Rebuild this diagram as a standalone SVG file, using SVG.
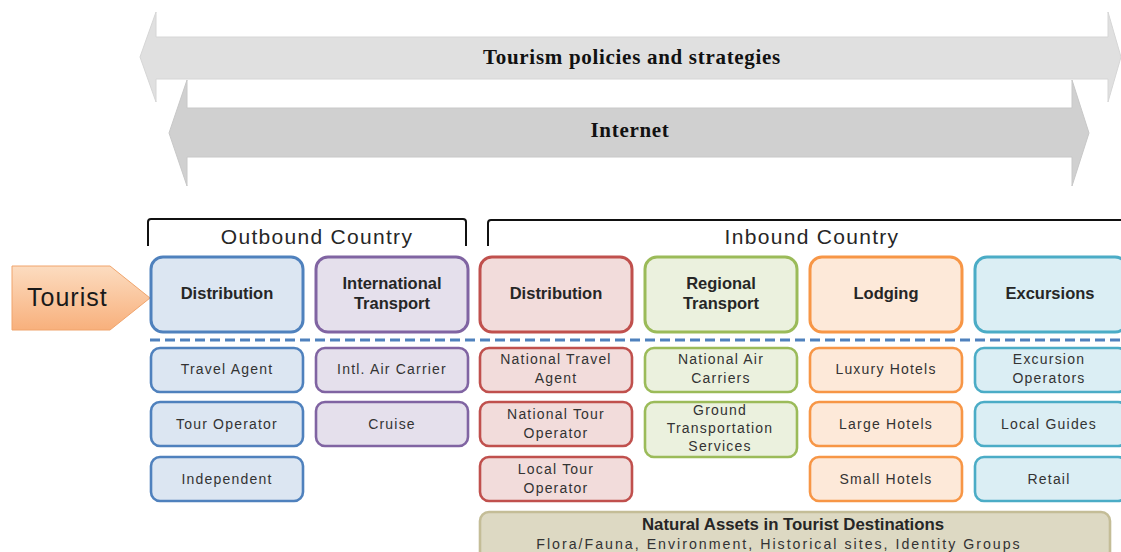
<svg xmlns="http://www.w3.org/2000/svg" width="1121" height="552" viewBox="0 0 1121 552">
<defs>
<linearGradient id="gTourist" x1="0" y1="0" x2="0" y2="1">
<stop offset="0" stop-color="#fcdcc0"/>
<stop offset="1" stop-color="#f8b07c"/>
</linearGradient>
<style>
.banner{font-family:"Liberation Serif",serif;font-weight:bold;font-size:21px;letter-spacing:0.7px;fill:#111;text-anchor:middle}
.country{font-family:"Liberation Sans",sans-serif;font-size:21px;letter-spacing:1.3px;fill:#262626;text-anchor:middle}
.head{font-family:"Liberation Sans",sans-serif;font-weight:bold;font-size:16.5px;fill:#262626;text-anchor:middle}
.sub{font-family:"Liberation Sans",sans-serif;font-size:14px;letter-spacing:1.2px;fill:#333;text-anchor:middle}
.bracket{fill:none;stroke:#111;stroke-width:2}
.h{stroke-width:3}
.s{stroke-width:2.6}
.blue{fill:#dce6f2;stroke:#4f81bd}
.purple{fill:#e5e0ec;stroke:#8064a2}
.red{fill:#f2dcdb;stroke:#c0504d}
.green{fill:#ebf1de;stroke:#9bbb59}
.orange{fill:#fde9d9;stroke:#f79646}
.teal{fill:#dbeef4;stroke:#4bacc6}
</style>
</defs>

<g id="policies">
<polygon points="140,57 156,12 156,37 1108,37 1108,12 1121,57 1108,102 1108,79 156,79 156,102" fill="#e0e0e0" stroke="#d6d6d6" stroke-width="1"/>
<text class="banner" x="632" y="64">Tourism policies and strategies</text>
</g>
<g id="internet">
<polygon points="169,133 187,80 187,108 1072,108 1072,80 1089,133 1072,186 1072,157 187,157 187,186" fill="#d0d0d0" stroke="#c8c8c8" stroke-width="1"/>
<text class="banner" x="630" y="137">Internet</text>
</g>

<g id="outbound-label">
<path class="bracket" d="M148,246 V222 Q148,219 151,219 H463 Q466,219 466,222 V246"/>
<text class="country" x="317" y="244">Outbound Country</text>
</g>
<g id="inbound-label">
<path class="bracket" d="M488,246 V223 Q488,220 491,220 H1125"/>
<text class="country" x="812" y="244">Inbound Country</text>
</g>

<g id="tourist">
<polygon points="12,266 110,266 150,298 110,330 12,330" fill="url(#gTourist)" stroke="#f0a46c" stroke-width="1"/>
<text x="27" y="306" font-family="Liberation Sans, sans-serif" font-size="25" letter-spacing="1" fill="#1a1a1a">Tourist</text>
</g>

<g id="h-out-dist"><rect class="h blue" x="151" y="257" width="152" height="75" rx="12"/><text class="head" x="227" y="299">Distribution</text></g>
<g id="h-intl"><rect class="h purple" x="316" y="257" width="152" height="75" rx="12"/><text class="head" x="392" y="289">International</text><text class="head" x="392" y="309">Transport</text></g>
<g id="h-in-dist"><rect class="h red" x="480" y="257" width="152" height="75" rx="12"/><text class="head" x="556" y="299">Distribution</text></g>
<g id="h-regional"><rect class="h green" x="645" y="257" width="152" height="75" rx="12"/><text class="head" x="721" y="289">Regional</text><text class="head" x="721" y="309">Transport</text></g>
<g id="h-lodging"><rect class="h orange" x="810" y="257" width="152" height="75" rx="12"/><text class="head" x="886" y="299">Lodging</text></g>
<g id="h-excursions"><rect class="h teal" x="975" y="257" width="152" height="75" rx="12"/><text class="head" x="1050" y="299">Excursions</text></g>

<g id="divider">
<line x1="150" y1="340" x2="1121" y2="340" stroke="#4f81bd" stroke-width="3" stroke-dasharray="10,5"/>
</g>

<g id="travel-agent"><rect class="s blue" x="151" y="348" width="152" height="44" rx="9"/><text class="sub" x="227" y="374">Travel Agent</text></g>
<g id="tour-operator"><rect class="s blue" x="151" y="402" width="152" height="44" rx="9"/><text class="sub" x="227" y="429">Tour Operator</text></g>
<g id="independent"><rect class="s blue" x="151" y="457" width="152" height="44" rx="9"/><text class="sub" x="227" y="484">Independent</text></g>

<g id="intl-air"><rect class="s purple" x="316" y="348" width="152" height="44" rx="9"/><text class="sub" x="392" y="374">Intl. Air Carrier</text></g>
<g id="cruise"><rect class="s purple" x="316" y="402" width="152" height="44" rx="9"/><text class="sub" x="392" y="429">Cruise</text></g>

<g id="nat-travel-agent"><rect class="s red" x="480" y="348" width="152" height="44" rx="9"/><text class="sub" x="556" y="364">National Travel</text><text class="sub" x="556" y="383">Agent</text></g>
<g id="nat-tour-operator"><rect class="s red" x="480" y="402" width="152" height="44" rx="9"/><text class="sub" x="556" y="419">National Tour</text><text class="sub" x="556" y="438">Operator</text></g>
<g id="local-tour-operator"><rect class="s red" x="480" y="457" width="152" height="44" rx="9"/><text class="sub" x="556" y="474">Local Tour</text><text class="sub" x="556" y="493">Operator</text></g>

<g id="nat-air"><rect class="s green" x="645" y="348" width="152" height="44" rx="9"/><text class="sub" x="721" y="364">National Air</text><text class="sub" x="721" y="383">Carriers</text></g>
<g id="ground"><rect class="s green" x="645" y="402" width="152" height="55" rx="9"/><text class="sub" x="720" y="415">Ground</text><text class="sub" x="720" y="433">Transportation</text><text class="sub" x="720" y="451">Services</text></g>

<g id="luxury"><rect class="s orange" x="810" y="348" width="152" height="44" rx="9"/><text class="sub" x="886" y="374">Luxury Hotels</text></g>
<g id="large"><rect class="s orange" x="810" y="402" width="152" height="44" rx="9"/><text class="sub" x="886" y="429">Large Hotels</text></g>
<g id="small"><rect class="s orange" x="810" y="457" width="152" height="44" rx="9"/><text class="sub" x="886" y="484">Small Hotels</text></g>

<g id="excursion-operators"><rect class="s teal" x="975" y="348" width="152" height="44" rx="9"/><text class="sub" x="1049" y="364">Excursion</text><text class="sub" x="1049" y="383">Operators</text></g>
<g id="local-guides"><rect class="s teal" x="975" y="402" width="152" height="44" rx="9"/><text class="sub" x="1049" y="429">Local Guides</text></g>
<g id="retail"><rect class="s teal" x="975" y="457" width="152" height="44" rx="9"/><text class="sub" x="1049" y="484">Retail</text></g>

<g id="natural-assets">
<rect x="480" y="512" width="630" height="60" rx="9" fill="#ddd9c3" stroke="#c4bd97" stroke-width="2.6"/>
<text class="head" x="793" y="530" style="font-size:16.8px">Natural Assets in Tourist Destinations</text>
<text class="sub" x="779" y="549" style="letter-spacing:2px;font-size:14.2px">Flora/Fauna, Environment, Historical sites, Identity Groups</text>
</g>
</svg>
